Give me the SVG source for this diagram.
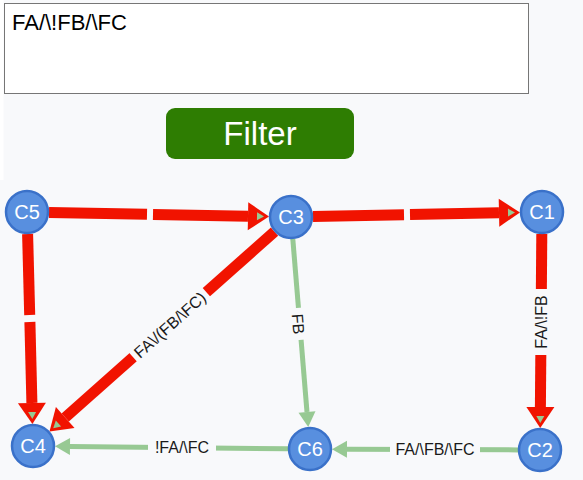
<svg xmlns="http://www.w3.org/2000/svg" width="583" height="480" viewBox="0 0 583 480">
  <style>
    .red { stroke: #f11300; stroke-width: 11; fill: none; }
    .grn { stroke: #97c993; stroke-width: 5; fill: none; }
    .node circle { fill: #588fdf; stroke: #3a71c9; stroke-width: 2.5; }
    .node text { font-family: "Liberation Sans", Arial, sans-serif; font-size: 20px; fill: #ffffff; text-anchor: middle; }
    .lbl { font-family: "Liberation Sans", Arial, sans-serif; font-size: 16px; fill: #1a1a1a; text-anchor: middle; }
    .gap { fill: #f8f9fb; }
  </style>
  <defs>
    <marker id="ar" markerUnits="userSpaceOnUse" markerWidth="24" markerHeight="30" refX="0" refY="14" orient="auto" overflow="visible">
      <path d="M0,0 L21,14 L0,28 Z" fill="#f11300"/>
      <path d="M9,10 L16,14 L9,18 Z" fill="#97c993"/>
    </marker>
    <marker id="ag" markerUnits="userSpaceOnUse" markerWidth="18" markerHeight="18" refX="0" refY="8.5" orient="auto" overflow="visible">
      <path d="M0,0 L15,8.5 L0,17 Z" fill="#97c993"/>
    </marker>
  </defs>

  <rect x="0" y="0" width="583" height="480" fill="#f8f9fb"/>
  <rect x="0" y="0" width="3.5" height="180" fill="#ffffff"/>

  <g id="textarea">
    <rect x="4.5" y="3.5" width="524" height="90" fill="#ffffff" stroke="#767676" stroke-width="1"/>
    <text x="12" y="30" font-family="'Liberation Sans', Arial, sans-serif" font-size="22" fill="#000000">FA/\!FB/\FC</text>
  </g>

  <g id="filter-button">
    <rect x="166" y="108" width="188" height="51" rx="9" ry="9" fill="#2e7d02"/>
    <text x="260" y="145" font-family="'Liberation Sans', Arial, sans-serif" font-size="33" fill="#ffffff" text-anchor="middle">Filter</text>
  </g>

  <g id="connectors">
    <!-- C5 -> C3 -->
    <line class="red" x1="49" y1="212.4" x2="147" y2="214.3"/>
    <line class="red" x1="153" y1="214.4" x2="248" y2="216.2" marker-end="url(#ar)"/>
    <!-- C3 -> C1 -->
    <line class="red" x1="313" y1="216.6" x2="404" y2="214.8"/>
    <line class="red" x1="410" y1="214.6" x2="499" y2="212.8" marker-end="url(#ar)"/>
    <!-- C5 -> C4 -->
    <line class="red" x1="27.6" y1="234" x2="29.7" y2="315"/>
    <line class="red" x1="29.9" y1="322" x2="31.9" y2="403" marker-end="url(#ar)"/>
    <!-- C3 -> C4 -->
    <line class="red" x1="274.5" y1="231.6" x2="65.2" y2="417.5" marker-end="url(#ar)"/>
    <!-- C1 -> C2 -->
    <line class="red" x1="541.8" y1="234" x2="540.4" y2="407" marker-end="url(#ar)"/>
    <!-- C3 -> C6 -->
    <line class="grn" x1="292.8" y1="238.9" x2="307" y2="412" marker-end="url(#ag)"/>
    <!-- C2 -> C6 -->
    <line class="grn" x1="518" y1="449.9" x2="347" y2="449.2" marker-end="url(#ag)"/>
    <!-- C6 -> C4 -->
    <line class="grn" x1="288" y1="448.8" x2="70" y2="446.4" marker-end="url(#ag)"/>

    <!-- labels -->
    <g transform="translate(170,325) rotate(-41.6)">
      <rect class="gap" x="-49" y="-10" width="98" height="20"/>
      <text class="lbl" x="0" y="5.5">FA\/(FB/\FC)</text>
    </g>
    <g transform="translate(541,322) rotate(-90)">
      <rect class="gap" x="-33" y="-10" width="66" height="20"/>
      <text class="lbl" x="0" y="5.5">FA/\!FB</text>
    </g>
    <g transform="translate(298,324) rotate(85.3)">
      <rect class="gap" x="-16" y="-9" width="32" height="18"/>
      <text class="lbl" x="0" y="5.5">FB</text>
    </g>
    <g transform="translate(435,449.5)">
      <rect class="gap" x="-45" y="-10" width="90" height="20"/>
      <text class="lbl" x="0" y="5.5">FA/\FB/\FC</text>
    </g>
    <g transform="translate(182,447.3)">
      <rect class="gap" x="-34" y="-10" width="68" height="20"/>
      <text class="lbl" x="0" y="5.5">!FA/\FC</text>
    </g>
  </g>

  <g id="C5" class="node"><circle cx="27" cy="212" r="21"/><text x="27" y="219">C5</text></g>
  <g id="C3" class="node"><circle cx="291" cy="217" r="21"/><text x="291" y="224">C3</text></g>
  <g id="C1" class="node"><circle cx="542" cy="212" r="21"/><text x="542" y="219">C1</text></g>
  <g id="C4" class="node"><circle cx="33" cy="446" r="21"/><text x="33" y="453">C4</text></g>
  <g id="C6" class="node"><circle cx="310" cy="449" r="21"/><text x="310" y="456">C6</text></g>
  <g id="C2" class="node"><circle cx="540" cy="450" r="21"/><text x="540" y="457">C2</text></g>
</svg>
